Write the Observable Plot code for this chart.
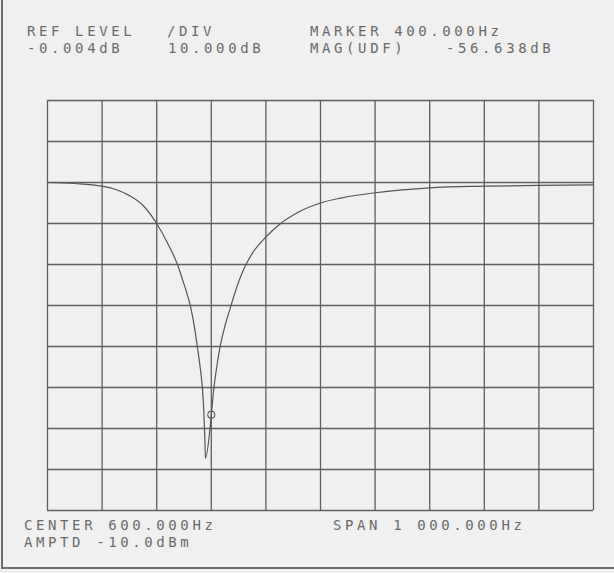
<!DOCTYPE html>
<html>
<head>
<meta charset="utf-8">
<script src="https://cdn.jsdelivr.net/npm/d3@7"></script>
<script src="https://cdn.jsdelivr.net/npm/@observablehq/plot@0.6"></script>
<style>
  html, body { margin: 0; padding: 0; background: #f0f0f0; }
  #page { position: relative; width: 614px; height: 573px; overflow: hidden; background: #f0f0f0; }
  #page svg { display: block; }
  .edge { position: absolute; background: #6e6e6e; }
  .lbl { font-family: "DejaVu Sans Mono", monospace; font-size: 14px; letter-spacing: 3.6px; fill: #6a6a6a; }
</style>
</head>
<body>
<div id="page"></div>
<script>
// ---- data ----
const freqHz = [100, 150, 200, 225, 250, 275, 300, 320, 338, 350, 362, 370, 375, 380, 384, 386, 387.5, 388.5, 389.2, 400, 404, 410, 415, 425, 435, 448, 460, 475, 500, 527, 560, 600, 637, 700, 750, 800, 900, 1000, 1100];
const magDb  = [0, -0.25, -0.9, -1.7, -3.2, -5.6, -10, -14.8, -20, -24.8, -30.3, -36, -40.6, -45.5, -50.6, -55, -60, -64, -67.3, -56.8, -51, -45, -40.8, -35, -30.5, -25, -21, -17.3, -13.3, -10, -7.2, -5, -3.8, -2.5, -1.8, -1.3, -0.9, -0.7, -0.6];
const markerHz = [400];
const markerDb = [-56.638];
const xTicks = [100, 200, 300, 400, 500, 600, 700, 800, 900, 1000, 1100];
const yTicks = [20, 10, 0, -10, -20, -30, -40, -50, -60, -70, -80];
const headerTexts = ["REF LEVEL", "-0.004dB", "/DIV", "10.000dB", "MARKER 400.000Hz", "MAG(UDF)", "-56.638dB"];
const footerTexts = ["CENTER 600.000Hz", "AMPTD -10.0dBm", "SPAN 1 000.000Hz"];

const trace = freqHz.map((f, i) => ({f, db: magDb[i]}));
const marker = markerHz.map((f, i) => ({f, db: markerDb[i]}));

const page = document.getElementById("page");

// ---- header ----
const header = d3.create("svg").attr("width", 614).attr("height", 60);
const headerPos = [[27, 36], [27, 53], [167, 36], [168, 53], [310, 36], [310, 53], [446, 53]];
headerTexts.forEach((t, i) => {
  header.append("text").attr("class", "lbl").attr("x", headerPos[i][0]).attr("y", headerPos[i][1]).text(t);
});
page.appendChild(header.node());

// ---- chart ----
const gridColor = "#5e5e5e";
const chart = Plot.plot({
  width: 614,
  height: 452,
  marginLeft: 47,
  marginRight: 21,
  marginTop: 40,
  marginBottom: 2,
  style: {background: "transparent"},
  x: {domain: [100, 1100], axis: null},
  y: {domain: [-80, 20], axis: null},
  marks: [
    Plot.ruleX(xTicks, {stroke: gridColor, strokeWidth: 1.3}),
    Plot.ruleY(yTicks, {stroke: gridColor, strokeWidth: 1.3}),
    Plot.line(trace, {x: "f", y: "db", stroke: "#555", strokeWidth: 1.2, curve: "monotone-x"}),
    Plot.dot(marker, {x: "f", y: "db", r: 3.5, stroke: "#555", strokeWidth: 1.1, fill: "none"})
  ]
});
page.appendChild(chart);

// ---- footer ----
const footer = d3.create("svg").attr("width", 614).attr("height", 56);
const footerPos = [[24, 18], [24, 35], [333, 18]];
footerTexts.forEach((t, i) => {
  footer.append("text").attr("class", "lbl").attr("x", footerPos[i][0]).attr("y", footerPos[i][1]).text(t);
});
page.appendChild(footer.node());

// ---- frame edges of the scanned sheet ----
const left = document.createElement("div");
left.className = "edge";
Object.assign(left.style, {left: "1px", top: "0px", width: "2px", height: "569px"});
page.appendChild(left);
const bottom = document.createElement("div");
bottom.className = "edge";
Object.assign(bottom.style, {left: "1px", top: "567px", width: "613px", height: "2px"});
page.appendChild(bottom);
</script>
</body>
</html>
